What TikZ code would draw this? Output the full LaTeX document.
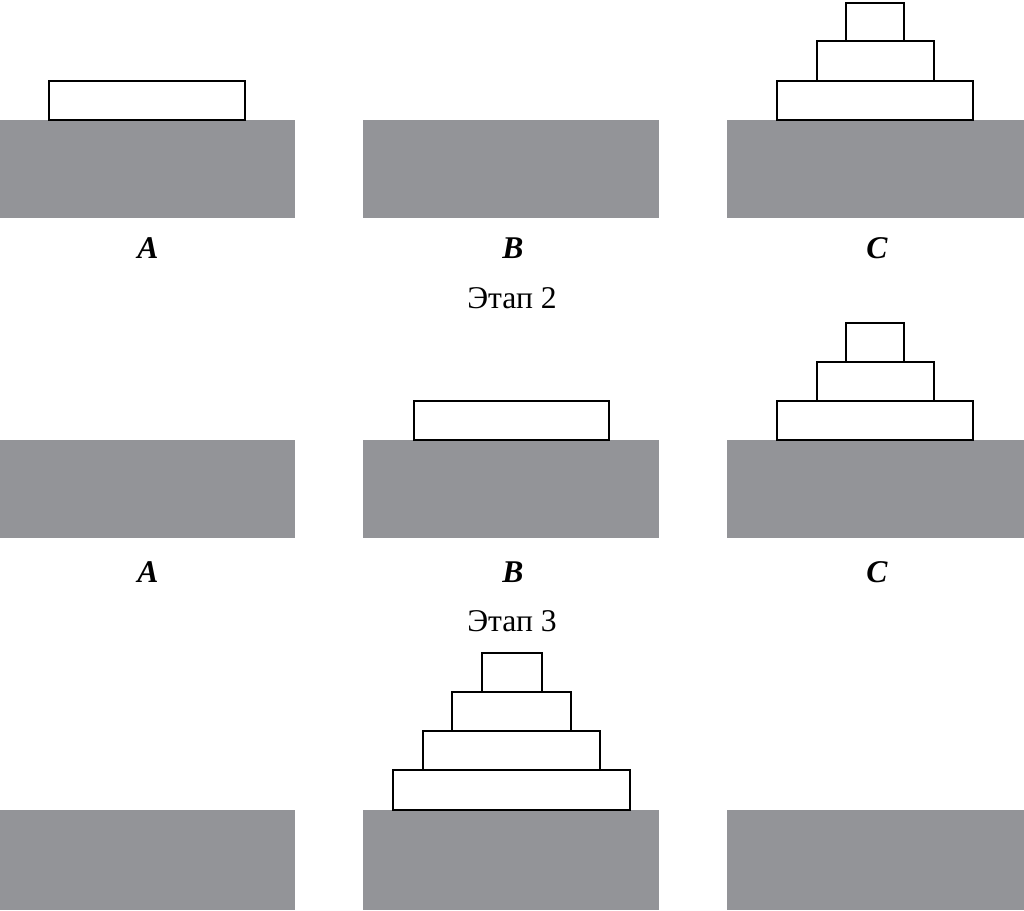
\documentclass[tikz,border=0pt]{standalone}
\usepackage{fontspec}
\setmainfont{Liberation Serif}
\usepackage{xcolor}
\definecolor{pegray}{RGB}{147,148,152}
\usepackage{tikz}

\tikzset{
  base/.style={fill=pegray, draw=none},
  disk/.style={fill=white, draw=black, line width=1.5pt},
  peglabel/.style={font=\fontsize{18}{20}\selectfont\bfseries\itshape},
  stagelabel/.style={font=\fontsize{18}{20}\selectfont}
}

\begin{document}
\begin{tikzpicture}[x=0.02cm, y=-0.02cm]
  \useasboundingbox (0,0) rectangle (1024,910);

  % --- Stage 1 ---
  \fill[base] (0,120) rectangle (295,218);
  \fill[base] (363,120) rectangle (659,218);
  \fill[base] (727,120) rectangle (1024,218);
  % Disk on A
  \draw[disk] (49,81) rectangle (245,120);
  % Stack on C
  \draw[disk] (777,81) rectangle (973,120);
  \draw[disk] (817,41) rectangle (934,81);
  \draw[disk] (846,3) rectangle (904,41);
  % Labels
  \node[peglabel] (a1) at (148,248) {A};
  \node[peglabel] (b1) at (513,248) {B};
  \node[peglabel] (c1) at (877,248) {C};
  \node[stagelabel] (st2) at (512,298) {Этап 2};

  % --- Stage 2 ---
  \fill[base] (0,440) rectangle (295,538);
  \fill[base] (363,440) rectangle (659,538);
  \fill[base] (727,440) rectangle (1024,538);
  % Disk on B
  \draw[disk] (414,401) rectangle (609,440);
  % Stack on C
  \draw[disk] (777,401) rectangle (973,440);
  \draw[disk] (817,362) rectangle (934,401);
  \draw[disk] (846,323) rectangle (904,362);
  % Labels
  \node[peglabel] (a2) at (148,572) {A};
  \node[peglabel] (b2) at (513,572) {B};
  \node[peglabel] (c2) at (877,572) {C};
  \node[stagelabel] (st3) at (512,621) {Этап 3};

  % --- Stage 3 ---
  \fill[base] (0,810) rectangle (295,910);
  \fill[base] (363,810) rectangle (659,910);
  \fill[base] (727,810) rectangle (1024,910);
  % Full stack on B
  \draw[disk] (393,770) rectangle (630,810);
  \draw[disk] (423,731) rectangle (600,770);
  \draw[disk] (452,692) rectangle (571,731);
  \draw[disk] (482,653) rectangle (542,692);
\end{tikzpicture}
\end{document}
